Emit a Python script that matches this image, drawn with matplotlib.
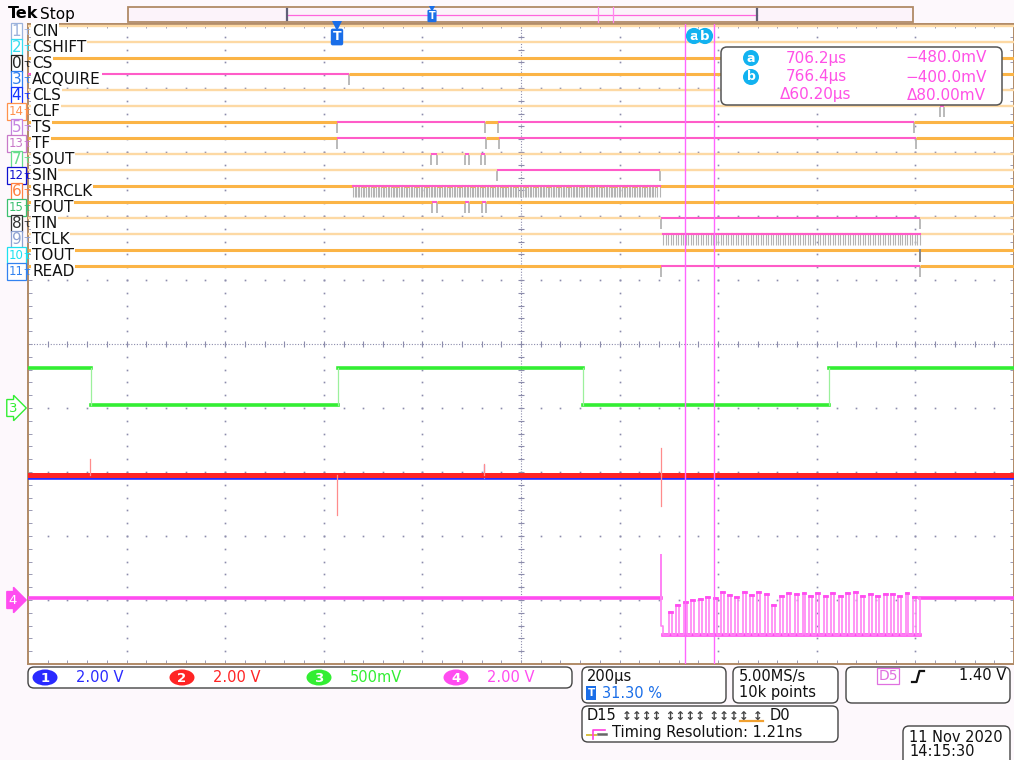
import numpy as np
import matplotlib.pyplot as plt
from matplotlib.patches import FancyBboxPatch, Ellipse, Rectangle
from matplotlib.collections import LineCollection

# --- acquisition settings ---------------------------------------------------
T_LEFT, T_RIGHT = -626.0, 1374.0          # us, 200 us/div, trigger at 31.30 %
ch_scale = [2.0, 2.0, 0.5, 2.0]            # V/div for ch1..ch4
ch_pos = [-2.0, -2.0, -1.0, -4.0]          # divisions
ch_scale_labels = ['2.00 V', '2.00 V', '500mV', '2.00 V']
ch_colors = ['#2a2aff', '#ff2424', '#33ee33', '#ff4cf0']

# --- digital channels (top to bottom) ---------------------------------------
dig_names = ['CIN', 'CSHIFT', 'CS', 'ACQUIRE', 'CLS', 'CLF', 'TS', 'TF',
             'SOUT', 'SIN', 'SHRCLK', 'FOUT', 'TIN', 'TCLK', 'TOUT', 'READ']
dig_numbers = ['1', '2', '0', '3', '4', '14', '5', '13',
               '7', '12', '6', '15', '8', '9', '10', '11']
dig_num_colors = ['#9cb2dc', '#38dcf0', '#222222', '#2f7ff0', '#1434ff', '#ff914c',
                  '#c585e0', '#c878c8', '#66dd8c', '#1010d0', '#ff8040', '#3cc070',
                  '#333333', '#8ea2d2', '#1ee0f0', '#3282f0']
dig_heavy = [False, False, True, True, False, False, True, True,
             False, False, True, True, False, False, True, True]
dig_start_high = [False, False, False, True, False, False, False, False,
                  False, False, False, False, False, False, False, False]

# transition times (us)
cin_edges = []
cshift_edges = []
cs_edges = []
acquire_edges = [26]
cls_edges = []
clf_edges = [1223, 1231]
ts_edges = [0, 300, 327, 1172]
tf_edges = [0, 302, 329, 1176]
sout_edges = [191, 203, 260, 268, 292, 300]
sin_edges = [325, 655]
fout_edges = [193, 203, 260, 268, 294, 302]
tin_edges = [657, 1184]
tout_edges = []
read_edges = [657, 1184]
shrclk_clock = [33, 655, 6.7]      # start, stop, period (us)
tclk_clock = [663, 1184, 10.1]
tout_glitch = [1183]

# --- analog channels ----------------------------------------------------------
ch1_level = -0.20
ch1_spike_t = [298]
ch1_spike_v = [0.22]
ch2_level = -0.10
ch2_spike_t = [-501, 0, 298, 657, 657]
ch2_spike_v = [0.42, -1.35, 0.25, 0.75, -1.05]
ch3_edges = [-499, 2, 499, 998]
ch3_high, ch3_low = 0.31, 0.02
ch4_base, ch4_low = 0.06, -1.08
ch4_kick_t, ch4_kick_v, ch4_pre_low, ch4_low_t = 657, 1.40, -0.81, 663
ch4_end = 1183
ch4_pulse_t = [674, 689, 704, 719, 735, 750, 765, 779, 794, 809, 824, 839,
               853, 869, 884, 899, 913, 929, 945, 959, 973, 988, 1003, 1019,
               1034, 1049, 1064, 1079, 1095, 1110, 1125, 1139, 1154, 1169]
ch4_pulse_v = [-0.36, -0.16, -0.06, 0.0, 0.03, 0.09, 0.06, 0.26, 0.15, 0.10,
               0.26, 0.15, 0.26, 0.20, -0.16, 0.12, 0.22, 0.20, 0.22, 0.12,
               0.22, 0.12, 0.22, 0.12, 0.22, 0.26, 0.12, 0.20, 0.12, 0.20,
               0.20, 0.12, 0.22, 0.10]
ch4_pulse_w = 6

# --- cursors -----------------------------------------------------------------
cursor_t = [706.2, 766.4]
cursor_v = [-480.0, -400.0]   # mV

GRID = '#8c8cac'
BROWN = '#b08a66'
HIGH = '#ff5cc8'


def to_div(v, ch):
    return ch_pos[ch] + v / ch_scale[ch]


fig = plt.figure(figsize=(10.14, 7.6), dpi=100, facecolor='#fdf8fc')
ax = fig.add_axes([28 / 1014, 96 / 760, 986 / 1014, 640 / 760], facecolor='white', zorder=1)
ax.set_xlim(T_LEFT, T_RIGHT)
ax.set_ylim(-5, 5)
for s in ax.spines.values():
    s.set_color(BROWN)
    s.set_linewidth(1.4)
ax.set_xticks(np.arange(T_LEFT, T_RIGHT + 1, 40))
ax.set_yticks(np.arange(-5, 5.01, 0.2))
ax.tick_params(direction='in', length=3, width=0.7, color='#9a9ab4',
               top=True, right=True, labelbottom=False, labelleft=False)

# graticule
minor_t = np.arange(T_LEFT + 40, T_RIGHT - 1, 40)
minor_y = np.arange(-4.8, 4.9, 0.2)
t_center = T_LEFT + 1000
for k in range(1, 10):
    mt = T_LEFT + 200 * k
    if k == 5:
        continue
    ax.plot(np.full_like(minor_y, mt), minor_y, ls='none', marker='s', ms=1.2,
            mew=0, color=GRID, zorder=0.5)
for yy in range(-4, 5):
    if yy == 0:
        continue
    ax.plot(minor_t, np.full_like(minor_t, yy), ls='none', marker='s', ms=1.2,
            mew=0, color=GRID, zorder=0.5)
ax.axvline(t_center, color=GRID, lw=0.8, ls=(0, (1, 1.5)), zorder=0.5)
ax.axhline(0, color=GRID, lw=0.8, ls=(0, (1, 1.5)), zorder=0.5)
ax.plot(np.full_like(minor_y, t_center), minor_y, ls='none', marker='_', ms=4,
        mew=0.8, color=GRID, zorder=0.5)
ax.plot(minor_t, np.zeros_like(minor_t), ls='none', marker='|', ms=4,
        mew=0.8, color=GRID, zorder=0.5)


# --- digital traces ------------------------------------------------------------
def digital(yc, edges, start_high, heavy, edge_lw=1.3):
    lo, hi = yc - 6 / 64, yc + 5 / 64
    bounds = [T_LEFT] + list(edges) + [T_RIGHT]
    hi_segs, lo_segs = [], []
    state = start_high
    for a, b in zip(bounds[:-1], bounds[1:]):
        (hi_segs if state else lo_segs).append([(a, hi), (b, hi)])
        state = not state
    ax.add_collection(LineCollection([[(e, lo), (e, hi)] for e in edges],
                                     colors='#b4b4b4', linewidths=edge_lw, zorder=2))
    ax.add_collection(LineCollection(lo_segs, colors='#fbb446' if heavy else '#fdd9a4',
                                     linewidths=2.2 if heavy else 1.7, zorder=3))
    ax.add_collection(LineCollection(hi_segs, colors=HIGH, linewidths=1.5, zorder=3))


def clock_edges(clk):
    start, stop, period = clk
    rises = np.arange(start, stop - period / 2 + 0.01, period)
    falls = np.append(rises[1:] - period / 2, stop)
    return sorted(list(rises) + list(falls))


dig_edges = [cin_edges, cshift_edges, cs_edges, acquire_edges, cls_edges, clf_edges,
             ts_edges, tf_edges, sout_edges, sin_edges, clock_edges(shrclk_clock),
             fout_edges, tin_edges, clock_edges(tclk_clock), tout_edges, read_edges]
for i in range(len(dig_names)):
    yc = (344 - 31 - 16 * i) / 64
    is_clock = dig_names[i] in ('SHRCLK', 'TCLK')
    digital(yc, dig_edges[i], dig_start_high[i], dig_heavy[i],
            edge_lw=0.8 if is_clock else 1.3)
    if is_clock:
        # the clock high level reads as one continuous pink line on screen
        e = dig_edges[i]
        ax.plot([e[0], e[-1]], [yc + 5 / 64] * 2, color=HIGH, lw=1.5, zorder=3.2)
    if dig_names[i] == 'TOUT':
        for g in tout_glitch:
            ax.plot([g, g], [yc - 6 / 64, yc + 5 / 64], color='#888888', lw=1.4, zorder=3)

# --- analog traces ---------------------------------------------------------------
# ch1 / ch2
ax.plot([T_LEFT, T_RIGHT], [to_div(ch1_level, 0)] * 2, color=ch_colors[0], lw=2.6, zorder=4)
for t, v in zip(ch1_spike_t, ch1_spike_v):
    ax.plot([t, t], [to_div(ch1_level, 0), to_div(v, 0)], color='#8080ff', lw=0.9, zorder=4)
ax.plot([T_LEFT, T_RIGHT], [to_div(ch2_level, 1)] * 2, color=ch_colors[1], lw=3.6, zorder=4.5)
for t, v in zip(ch2_spike_t, ch2_spike_v):
    ax.plot([t, t], [to_div(ch2_level, 1), to_div(v, 1)], color='#ff8c8c', lw=0.9, zorder=4.5)

# ch3
bounds = [T_LEFT] + ch3_edges + [T_RIGHT]
state = True
for a, b in zip(bounds[:-1], bounds[1:]):
    lvl = ch3_high if state else ch3_low
    ax.plot([a, b], [to_div(lvl, 2)] * 2, color=ch_colors[2], lw=2.6, zorder=4)
    state = not state
for e in ch3_edges:
    ax.plot([e, e], [to_div(ch3_low, 2), to_div(ch3_high, 2)], color='#9cf09c', lw=0.9, zorder=4)

# ch4
ax.plot([T_LEFT, ch4_kick_t], [to_div(ch4_base, 3)] * 2, color=ch_colors[3], lw=2.6, zorder=4)
ax.plot([ch4_end, T_RIGHT], [to_div(ch4_base, 3)] * 2, color=ch_colors[3], lw=2.6, zorder=4)
ax.plot([ch4_low_t, ch4_end], [to_div(ch4_low, 3)] * 2, color=ch_colors[3], lw=2.6, zorder=4)
wt = [ch4_kick_t, ch4_kick_t, ch4_kick_t, ch4_low_t, ch4_low_t]
wv = [ch4_base, ch4_kick_v, ch4_pre_low, ch4_pre_low, ch4_low]
for t, v in zip(ch4_pulse_t, ch4_pulse_v):
    wt += [t, t, t + ch4_pulse_w, t + ch4_pulse_w]
    wv += [ch4_low, v, v, ch4_low]
wt += [ch4_end, ch4_end]
wv += [ch4_low, ch4_base]
ax.plot(wt, [to_div(v, 3) for v in wv], color='#ff84f4', lw=1.2, zorder=4)
for t, v in zip(ch4_pulse_t, ch4_pulse_v):
    ax.plot([t, t + ch4_pulse_w], [to_div(v, 3)] * 2, color=ch_colors[3], lw=2.0, zorder=4)

# cursors
for c in cursor_t:
    ax.axvline(c, color='#ff66ff', lw=1.0, zorder=5)

# --- overlay (screen decorations, pixel coordinates) -----------------------------
ov = fig.add_axes([0, 0, 1, 1], zorder=3)
ov.set_xlim(0, 1014)
ov.set_ylim(760, 0)
ov.axis('off')
ov.patch.set_alpha(0)

ov.text(8, 14, 'Tek', fontsize=11.5, fontweight='bold', va='center', color='black')
ov.text(40, 14, 'Stop', fontsize=11, va='center', color='black')

# record view
ov.add_patch(Rectangle((128, 7), 785, 15, fc='#fcf3fa', ec=BROWN, lw=1.3))
ov.plot([287, 757], [14.5, 14.5], color='#ff66dd', lw=0.9)
for bx in (287, 757):
    ov.plot([bx, bx], [9, 20], color='#606078', lw=1.6)
for cx in (598, 613):
    ov.plot([cx, cx], [7, 22], color='#ff88ee', lw=0.9)
ov.text(432, 16, 'T', fontsize=7, fontweight='bold', color='white', ha='center', va='center',
        bbox=dict(boxstyle='round,pad=0.12', fc='#1a6ee8', ec='none'))
ov.plot(432, 9, marker='v', ms=5, color='#1a6ee8', mew=0)

# trigger marker
ov.plot(337, 26, marker='v', ms=7, color='#1a6ee8', mew=0)
ov.text(337, 37, 'T', fontsize=9, fontweight='bold', color='white', ha='center', va='center',
        bbox=dict(boxstyle='round,pad=0.15', fc='#1a6ee8', ec='none'))

# cursor tags
ov.text(694, 36, 'a', fontsize=9.5, fontweight='bold', color='white', ha='center', va='center',
        bbox=dict(boxstyle='circle,pad=0.12', fc='#12b2f0', ec='none'))
ov.text(705, 36, 'b', fontsize=9.5, fontweight='bold', color='white', ha='center', va='center',
        bbox=dict(boxstyle='circle,pad=0.12', fc='#12b2f0', ec='none'))

# cursor readout
ov.add_patch(FancyBboxPatch((721, 47), 281, 58, boxstyle='round,pad=0,rounding_size=6',
                            fc='white', ec='#555555', lw=1.1))
RD = '#ff50e6'
rows_y = [58, 77, 95]
for ry, tag in zip(rows_y[:2], 'ab'):
    ov.text(751, ry, tag, fontsize=9, fontweight='bold', color='white', ha='center', va='center',
            bbox=dict(boxstyle='circle,pad=0.12', fc='#12b2f0', ec='none'))
ov.text(816, rows_y[0], f'{cursor_t[0]:.1f}µs', fontsize=11, color=RD, ha='center', va='center')
ov.text(816, rows_y[1], f'{cursor_t[1]:.1f}µs', fontsize=11, color=RD, ha='center', va='center')
ov.text(816, rows_y[2], f'Δ{cursor_t[1] - cursor_t[0]:.2f}µs', fontsize=11, color=RD,
        ha='center', va='center')
ov.text(946, rows_y[0], f'−{abs(cursor_v[0]):.1f}mV', fontsize=11, color=RD, ha='center', va='center')
ov.text(946, rows_y[1], f'−{abs(cursor_v[1]):.1f}mV', fontsize=11, color=RD, ha='center', va='center')
ov.text(946, rows_y[2], f'Δ{abs(cursor_v[1] - cursor_v[0]):.2f}mV', fontsize=11, color=RD,
        ha='center', va='center')

# digital channel labels
for i, (name, num, col) in enumerate(zip(dig_names, dig_numbers, dig_num_colors)):
    y = 31 + 16 * i
    ov.text(16.5, y + 0.5, num, fontsize=11 if len(num) == 1 else 8.5, color=col,
            ha='center', va='center',
            bbox=dict(boxstyle='square,pad=0.05' if len(num) == 1 else 'square,pad=0.15',
                      fc='white', ec=col, lw=0.9))
    ov.text(27, y + 1, 'τ', fontsize=8, color=col, ha='center', va='center')
    ov.text(32, y, name, fontsize=11, color='#111111', ha='left', va='center',
            bbox=dict(boxstyle='square,pad=0.05', fc='white', ec='none'))

# analog ground markers
ov.text(13, 408, '3', fontsize=9.5, color=ch_colors[2], ha='center', va='center',
        bbox=dict(boxstyle='rarrow,pad=0.15', fc='white', ec=ch_colors[2], lw=1.0))
ov.text(13, 600, '4', fontsize=9.5, color='white', ha='center', va='center',
        bbox=dict(boxstyle='rarrow,pad=0.15', fc=ch_colors[3], ec=ch_colors[3], lw=1.0))

# bottom: vertical settings
ov.add_patch(FancyBboxPatch((28, 667), 544, 21, boxstyle='round,pad=0,rounding_size=6',
                            fc='white', ec='#444444', lw=1.0))
oval_x = [45, 182, 319, 456]
for k in range(4):
    ov.add_patch(Ellipse((oval_x[k], 677.5), 25, 16, fc=ch_colors[k], ec='none'))
    ov.text(oval_x[k], 678, str(k + 1), fontsize=9.5, fontweight='bold', color='white',
            ha='center', va='center')
    ov.text(oval_x[k] + 31, 678, ch_scale_labels[k], fontsize=10.5, color=ch_colors[k],
            ha='left', va='center')

# horizontal settings
ov.add_patch(FancyBboxPatch((582, 667), 144, 36, boxstyle='round,pad=0,rounding_size=6',
                            fc='white', ec='#444444', lw=1.0))
ov.text(587, 676, '200µs', fontsize=10.5, color='#111111', va='center')
ov.text(591, 693, 'T', fontsize=7.5, fontweight='bold', color='white', ha='center', va='center',
        bbox=dict(boxstyle='square,pad=0.15', fc='#1a6ee8', ec='none'))
ov.text(602, 693, '31.30 %', fontsize=10.5, color='#1a6ee8', va='center')

ov.add_patch(FancyBboxPatch((733, 667), 105, 36, boxstyle='round,pad=0,rounding_size=6',
                            fc='white', ec='#444444', lw=1.0))
ov.text(739, 676, '5.00MS/s', fontsize=10.5, color='#111111', va='center')
ov.text(739, 693, '10k points', fontsize=10.5, color='#111111', va='center')

ov.add_patch(FancyBboxPatch((846, 667), 164, 36, boxstyle='round,pad=0,rounding_size=6',
                            fc='white', ec='#444444', lw=1.0))
ov.text(888, 676, 'D5', fontsize=10, color='#e070e0', ha='center', va='center',
        bbox=dict(boxstyle='square,pad=0.1', fc='white', ec='#e070e0', lw=0.9))
ov.plot([912, 916.5, 919.5, 924], [682, 682, 671, 671], color='#111111', lw=1.6)
ov.text(1006, 676, '1.40 V', fontsize=10.5, color='#111111', ha='right', va='center')

ov.add_patch(FancyBboxPatch((582, 706), 256, 36, boxstyle='round,pad=0,rounding_size=6',
                            fc='white', ec='#444444', lw=1.0))
ov.text(587, 716, 'D15', fontsize=10.5, color='#111111', va='center')
ov.text(622, 716, '↕↕↕↕ ↕↕↕↕ ↕↕↕↕ ↕', fontsize=8.5, color='#444444', va='center',
        fontweight='bold')
ov.plot([740, 763], [721, 721], color='#f0a030', lw=1.6)
ov.text(770, 716, 'D0', fontsize=10.5, color='#111111', va='center')
ov.plot([587, 596], [735, 735], color='#d8c040', lw=1.4)
ov.plot([593, 593, 605], [739, 730, 730], color='#ff40e0', lw=1.2)
ov.plot([598, 606], [734, 734], color='#666666', lw=1.8)
ov.text(612, 733, 'Timing Resolution: 1.21ns', fontsize=10.5, color='#111111', va='center')

ov.add_patch(FancyBboxPatch((903, 726), 107, 40, boxstyle='round,pad=0,rounding_size=6',
                            fc='white', ec='#444444', lw=1.0))
ov.text(909, 737, '11 Nov 2020', fontsize=10.5, color='#111111', va='center')
ov.text(909, 752, '14:15:30', fontsize=10.5, color='#111111', va='center')

fig.savefig('out.png', dpi=100, facecolor=fig.get_facecolor())
